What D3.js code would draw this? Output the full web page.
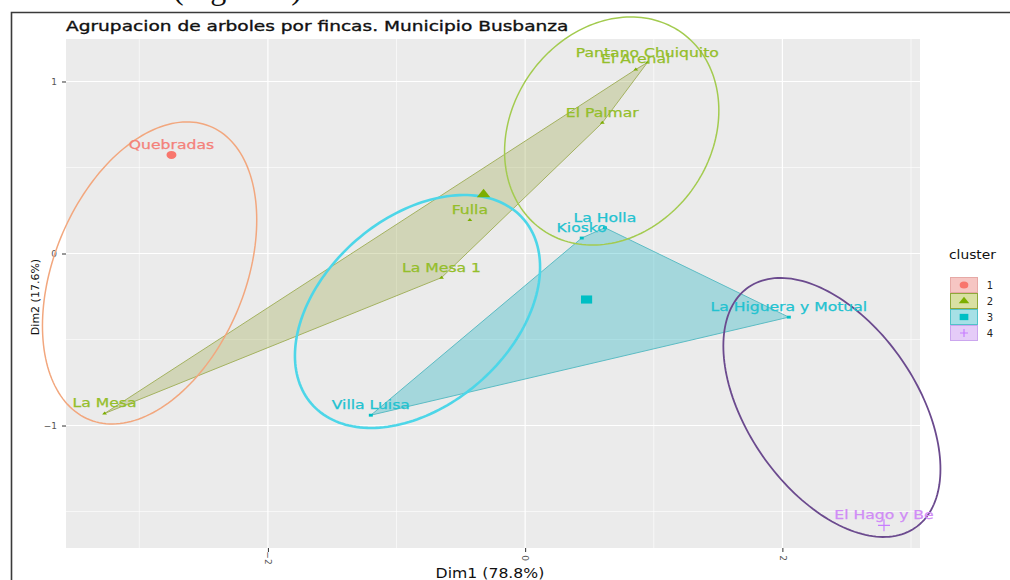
<!DOCTYPE html>
<html>
<head>
<meta charset="utf-8">
<script src="https://cdn.jsdelivr.net/npm/d3@7"></script>
<style>
  html, body { margin: 0; padding: 0; background: #fff; }
  svg { display: block; }
  text { font-family: "DejaVu Sans", sans-serif; }
</style>
</head>
<body>
<svg id="chart" width="1010" height="580"></svg>
<script>
// ---- data -------------------------------------------------------------
const fincas   = ["Quebradas", "La Mesa", "La Mesa 1", "Fulla", "El Palmar", "El Arenal",
                  "Pantano Chuiquito", "La Holla", "Kiosko", "La Higuera y Motual",
                  "Villa Luisa", "El Hago y Be"];
const dim1     = [-2.75, -3.27, -0.65, -0.43, 0.60, 0.86, 0.95, 0.62, 0.44, 2.05, -1.20, 2.79];
const dim2     = [0.573, -0.93, -0.14, 0.195, 0.76, 1.07, 1.11, 0.15, 0.09, -0.37, -0.94, -1.58];
const cluster  = [1, 2, 2, 2, 2, 2, 2, 3, 3, 3, 3, 4];

const clusters      = [1, 2, 3, 4];
const clusterColors = ["#F8766D", "#7CAE00", "#00BFC4", "#C77CFF"];

// concentration ellipses: centre, half extents along each axis, correlation
const ellCx    = [-2.92, 0.673, -0.837, 2.385];
const ellCy    = [-0.113, 0.712, -0.337, -0.895];
const ellHx    = [0.833, 0.833, 0.953, 0.844];
const ellHy    = [0.878, 0.663, 0.677, 0.753];
const ellR     = [0.35, 0.18, 0.38, -0.475];
const ellColor = ["#F2A77E", "#A3CB4F", "#4DD6E8", "#6B4A8E"];
const ellWidth = [1.5, 1.5, 2.6, 1.8];

const xTicks = [-2, 0, 2];
const yTicks = [-1, 0, 1];
const xMinor = [-3, -1, 1, 3];
const yMinor = [-1.5, -0.5, 0.5];

const title  = "Agrupacion de arboles por fincas. Municipio Busbanza";
const xTitle = "Dim1 (78.8%)";
const yTitle = "Dim2 (17.6%)";

// ---- layout -----------------------------------------------------------
const svg = d3.select("#chart");
const panel = { left: 66, right: 920, top: 39, bottom: 548 };
const x = d3.scaleLinear().domain([-3.57, 3.07]).range([panel.left, panel.right]);
const y = d3.scaleLinear().domain([-1.712, 1.247]).range([panel.bottom, panel.top]);
const colorOf = d3.scaleOrdinal().domain(clusters).range(clusterColors);

// widen glyphs horizontally (the figure is rendered in a wide aspect)
function widen(sel, k) {
  sel.each(function () {
    const w = this.getComputedTextLength();
    this.setAttribute("textLength", w * k);
    this.setAttribute("lengthAdjust", "spacingAndGlyphs");
  });
}

// figure caption above the frame
svg.append("text")
  .attr("x", 173).attr("y", -1)
  .style("font-family", "'Liberation Serif', serif")
  .style("font-size", "32px").attr("fill", "#111")
  .text("(Figura 5)");

// outer frame
svg.append("path")
  .attr("d", "M11.5,580 L11.5,12.5 L1010,12.5")
  .attr("fill", "none").attr("stroke", "#3a3a3a").attr("stroke-width", 1.6);

// panel background
svg.append("rect")
  .attr("x", panel.left).attr("y", panel.top)
  .attr("width", panel.right - panel.left).attr("height", panel.bottom - panel.top)
  .attr("fill", "#EBEBEB");

// grid
const grid = svg.append("g");
grid.selectAll(".vminor").data(xMinor).join("line")
  .attr("x1", d => x(d)).attr("x2", d => x(d))
  .attr("y1", panel.top).attr("y2", panel.bottom)
  .attr("stroke", "#fff").attr("stroke-width", 0.6);
grid.selectAll(".hminor").data(yMinor).join("line")
  .attr("y1", d => y(d)).attr("y2", d => y(d))
  .attr("x1", panel.left).attr("x2", panel.right)
  .attr("stroke", "#fff").attr("stroke-width", 0.6);
grid.selectAll(".vmajor").data(xTicks).join("line")
  .attr("x1", d => x(d)).attr("x2", d => x(d))
  .attr("y1", panel.top).attr("y2", panel.bottom)
  .attr("stroke", "#fff").attr("stroke-width", 1.2);
grid.selectAll(".hmajor").data(yTicks).join("line")
  .attr("y1", d => y(d)).attr("y2", d => y(d))
  .attr("x1", panel.left).attr("x2", panel.right)
  .attr("stroke", "#fff").attr("stroke-width", 1.2);

// axes
const xAxis = d3.axisBottom(x).tickValues(xTicks).tickSize(4).tickPadding(4).tickFormat(d3.format("d"));
const gx = svg.append("g").attr("transform", `translate(0,${panel.bottom})`).call(xAxis);
gx.select(".domain").remove();
gx.selectAll(".tick line").attr("stroke", "#333").attr("stroke-width", 1);
gx.selectAll(".tick text")
  .attr("fill", "#555").style("font-size", "9px")
  .attr("transform", "rotate(90)").attr("dy", "0.35em").attr("x", 10).attr("y", 0)
  .style("text-anchor", "middle");

const yAxis = d3.axisLeft(y).tickValues(yTicks).tickSize(4).tickPadding(5).tickFormat(d3.format("d"));
const gy = svg.append("g").attr("transform", `translate(${panel.left},0)`).call(yAxis);
gy.select(".domain").remove();
gy.selectAll(".tick line").attr("stroke", "#333").attr("stroke-width", 1);
gy.selectAll(".tick text").attr("fill", "#555").style("font-size", "9px");

// ---- points grouped by cluster ----------------------------------------
const rows = fincas.map((name, i) => ({ name, d1: dim1[i], d2: dim2[i], cl: cluster[i] }));
const byCluster = d3.group(rows, d => d.cl);

// convex hulls
const hullFill   = { 2: ["#9AA84A", 0.32], 3: ["#00A8B8", 0.3] };
const hullStroke = { 2: "#A4B260", 3: "#5CBCC4" };
clusters.forEach(c => {
  const pts = byCluster.get(c).map(d => [x(d.d1), y(d.d2)]);
  if (pts.length < 3) return;
  const hull = d3.polygonHull(pts);
  svg.append("path")
    .attr("d", "M" + hull.join("L") + "Z")
    .attr("fill", hullFill[c][0]).attr("fill-opacity", hullFill[c][1])
    .attr("stroke", hullStroke[c]).attr("stroke-width", 1);
});

// ellipses
const ellLine = d3.line().curve(d3.curveLinearClosed);
ellCx.forEach((cx, i) => {
  const pts = d3.range(0, 2 * Math.PI, Math.PI / 90).map(t => {
    const ex = cx + ellHx[i] * Math.cos(t);
    const ey = ellCy[i] + ellHy[i] * (ellR[i] * Math.cos(t) + Math.sqrt(1 - ellR[i] * ellR[i]) * Math.sin(t));
    return [x(ex), y(ey)];
  });
  svg.append("path").attr("d", ellLine(pts))
    .attr("fill", "none").attr("stroke", ellColor[i]).attr("stroke-width", ellWidth[i]);
});

// marker shapes per cluster
function marker(g, c, size) {
  const col = colorOf(c);
  if (c === 1) {
    g.append("ellipse").attr("rx", size * 0.62).attr("ry", size * 0.5).attr("fill", col);
  } else if (c === 2) {
    const w = size * 0.75, h = size * 0.55;
    g.append("path").attr("d", `M${-w},${h * 0.6}L${w},${h * 0.6}L0,${-h * 1.1}Z`).attr("fill", col);
  } else if (c === 3) {
    g.append("rect").attr("x", -size * 0.62).attr("y", -size * 0.45)
      .attr("width", size * 1.24).attr("height", size * 0.9).attr("fill", col);
  } else {
    g.append("path").attr("d", `M${-size},0H${size}M0,${-size}V${size}`)
      .attr("stroke", col).attr("stroke-width", 1.2).attr("fill", "none");
  }
}

// member points
rows.forEach(d => {
  const g = svg.append("g").attr("transform", `translate(${x(d.d1)},${y(d.d2)})`);
  marker(g, d.cl, d.cl === 4 ? 6 : 3.2);
});

// cluster centres (mean of members)
clusters.forEach(c => {
  const m = byCluster.get(c);
  if (m.length < 2) {
    if (c === 1) {
      const g = svg.append("g").attr("transform", `translate(${x(m[0].d1)},${y(m[0].d2)})`);
      marker(g, c, 8);
    }
    return;
  }
  const g = svg.append("g")
    .attr("transform", `translate(${x(d3.mean(m, d => d.d1))},${y(d3.mean(m, d => d.d2))})`);
  marker(g, c, 9);
});

// labels
const labelColor = { 1: "#F4817A", 2: "#94BE2A", 3: "#22C2D0", 4: "#D08CF6" };
rows.forEach(d => {
  const t = svg.append("text")
    .attr("x", x(d.d1)).attr("y", y(d.d2) - 6)
    .attr("text-anchor", "middle")
    .style("font-size", "12px")
    .attr("fill", labelColor[d.cl])
    .attr("stroke", labelColor[d.cl]).attr("stroke-width", 0.25)
    .text(d.name);
  widen(t, 1.3);
});

// ---- titles -----------------------------------------------------------
const tt = svg.append("text").attr("x", panel.left).attr("y", 31)
  .style("font-size", "14.5px").attr("fill", "#111")
  .attr("stroke", "#111").attr("stroke-width", 0.35).text(title);
widen(tt, 1.28);

const xt = svg.append("text").attr("x", 490).attr("y", 578).attr("text-anchor", "middle")
  .style("font-size", "14px").attr("fill", "#111").text(xTitle);
widen(xt, 1.12);

svg.append("text").attr("transform", "translate(39,297) rotate(-90)")
  .attr("text-anchor", "middle").style("font-size", "11px").attr("fill", "#111").text(yTitle);

// ---- legend -----------------------------------------------------------
const legendFill   = ["#F6C6C3", "#D9E0A2", "#A6E0E6", "#E5CCF8"];
const legendStroke = ["#E6A9A6", "#8FA83A", "#52C2CA", "#CBA6EE"];
const lg = svg.append("g").attr("transform", "translate(950,0)");
const lt = lg.append("text").attr("x", -1).attr("y", 259).style("font-size", "12px")
  .attr("fill", "#111").text("cluster");
widen(lt, 1.15);
clusters.forEach((c, i) => {
  const top = 277 + i * 16;
  lg.append("rect").attr("x", 0.5).attr("y", top + 0.5).attr("width", 27).attr("height", 15)
    .attr("fill", legendFill[i]).attr("stroke", legendStroke[i]).attr("stroke-width", 1);
  const g = lg.append("g").attr("transform", `translate(14,${top + 8})`);
  marker(g, c, c === 4 ? 4 : 7);
  lg.append("text").attr("x", 40).attr("y", top + 8).attr("dy", "0.35em")
    .attr("text-anchor", "middle").style("font-size", "10px").attr("fill", "#222").text(c);
});
</script>
</body>
</html>
